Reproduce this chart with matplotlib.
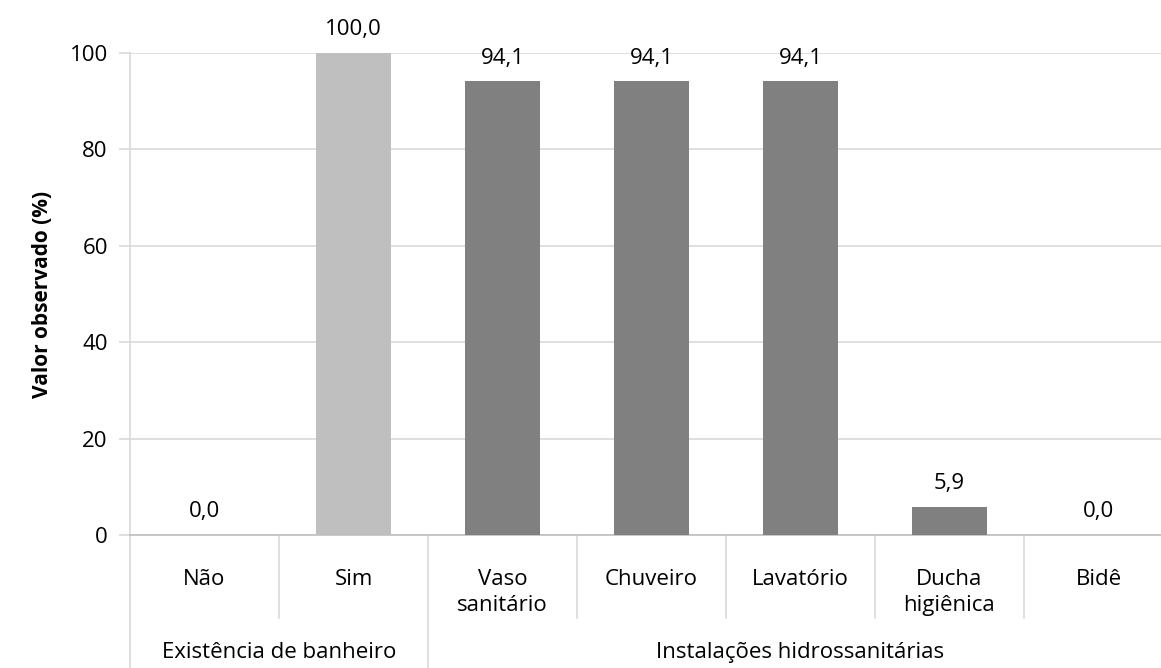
import matplotlib.pyplot as plt
from matplotlib import transforms

# ==========================================
# DATA
# ==========================================
categories = ["Não", "Sim", "Vaso\nsanitário", "Chuveiro", "Lavatório", "Ducha\nhigiênica", "Bidê"]
values = [0.0, 100.0, 94.1, 94.1, 94.1, 5.9, 0.0]
groups = ["Existência de banheiro", "Instalações hidrossanitárias"]
group_sizes = [2, 5]
y_ticks = [0, 20, 40, 60, 80, 100]

LIGHT = "#BFBFBF"
DARK = "#808080"
GRID = "#D9D9D9"
bar_colors = [LIGHT, LIGHT, DARK, DARK, DARK, DARK, DARK]
FS = 16

plt.rcParams['font.family'] = ['Open Sans', 'DejaVu Sans']

fig = plt.figure(figsize=(11.61, 6.68), dpi=100, facecolor='white')
ax = fig.add_axes([130 / 1161, 133 / 668, 1043 / 1161, 482 / 668])

x = list(range(len(categories)))
ax.bar(x, values, width=0.5, color=bar_colors, zorder=3)

ax.set_xlim(-0.5, len(categories) - 0.5)
ax.set_ylim(0, 100)
ax.set_yticks(y_ticks)
ax.set_yticklabels([str(t) for t in y_ticks], fontsize=FS)
ax.yaxis.grid(True, color=GRID, linewidth=1.2, zorder=0)
ax.tick_params(axis='y', length=8, color=GRID, width=1.2, pad=8)
ax.tick_params(axis='x', length=0, labelbottom=False)

for side in ['top', 'right']:
    ax.spines[side].set_visible(False)
ax.spines['left'].set_color(GRID)
ax.spines['left'].set_linewidth(1.2)
ax.spines['bottom'].set_color(LIGHT)
ax.spines['bottom'].set_linewidth(1.2)

ax.set_ylabel("Valor observado (%)", fontsize=FS - 1, fontweight='bold', labelpad=12)

# value labels
for xi, v in zip(x, values):
    ax.annotate(f"{v:.1f}".replace('.', ','), xy=(xi, v), xytext=(0, 9),
                textcoords='offset points', ha='center', va='bottom', fontsize=FS)

# two level category axis
trans = transforms.blended_transform_factory(ax.transData, ax.transAxes)
for xi, lab in zip(x, categories):
    ax.text(xi, -0.07, lab, transform=trans, ha='center', va='top',
            fontsize=FS, linespacing=1.3)

# inner separators and group separators
start = 0
bounds = [-0.5]
for size in group_sizes:
    start += size
    bounds.append(start - 0.5)
for b in range(1, len(categories)):
    xb = b - 0.5
    if xb in bounds:
        continue
    ax.plot([xb, xb], [0, -0.172], transform=trans, color=GRID, lw=1.2, clip_on=False)
for xb in bounds:
    ax.plot([xb, xb], [0, -0.3], transform=trans, color=GRID, lw=1.2, clip_on=False)

for i, (g, size) in enumerate(zip(groups, group_sizes)):
    center = (bounds[i] + bounds[i + 1]) / 2
    ax.text(center, -0.243, g, transform=trans, ha='center', va='center', fontsize=FS)

fig.savefig("out.png", dpi=100, facecolor='white')
